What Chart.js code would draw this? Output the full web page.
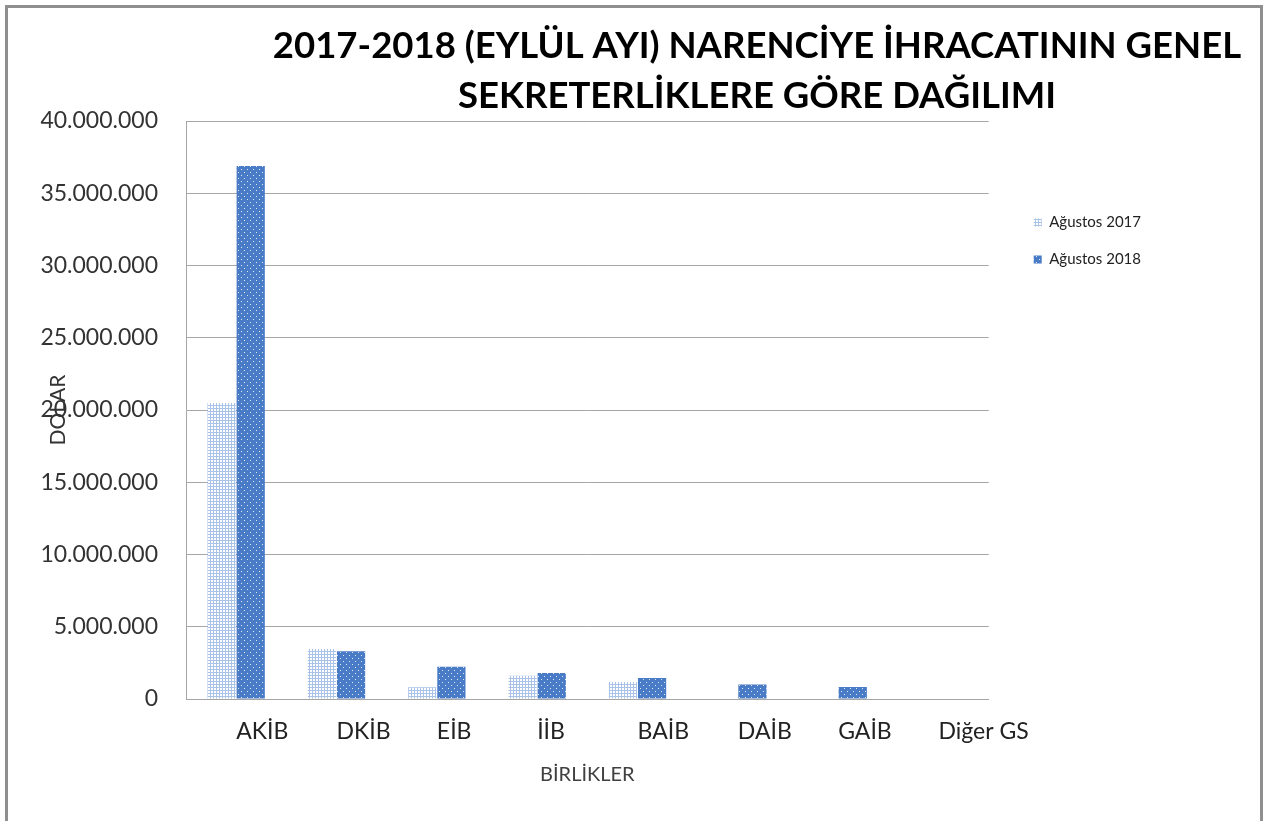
<!DOCTYPE html>
<html><head><meta charset="utf-8">
<script src="https://cdn.jsdelivr.net/npm/chart.js@4.4.1/dist/chart.umd.min.js"></script>
<style>
html,body{margin:0;padding:0;background:#fff;overflow:hidden}
#wrap{position:relative;width:1263px;height:821px}
#frame{position:absolute;left:5px;top:5px;width:1258px;height:900px;border:3px solid #8f8f8f;box-sizing:border-box;pointer-events:none}
</style></head><body>
<div id="wrap"><canvas id="c"></canvas><div id="frame"></div></div>
<script>
const categories = ['AKİB','DKİB','EİB','İİB','BAİB','DAİB','GAİB','Diğer GS'];
const seriesNames = ['Ağustos 2017','Ağustos 2018'];
const values2017 = [20480000, 3460000, 810000, 1610000, 1180000, 0, 0, 0];
const values2018 = [36890000, 3300000, 2240000, 1800000, 1450000, 1010000, 830000, 0];
const titleLines = ['2017-2018 (EYLÜL AYI) NARENCİYE İHRACATININ GENEL', 'SEKRETERLİKLERE GÖRE DAĞILIMI'];
const yAxisTitle = 'DOLAR';
const xAxisTitle = 'BİRLİKLER';
const yMin = 0, yMax = 40000000, yStep = 5000000;

function makePattern(bg, fg, w, h, rects) {
  const c = document.createElement('canvas');
  c.width = w; c.height = h;
  const x = c.getContext('2d');
  x.fillStyle = bg; x.fillRect(0, 0, w, h);
  x.fillStyle = fg;
  rects.forEach(r => x.fillRect(r[0], r[1], r[2], r[3]));
  return x.createPattern(c, 'repeat');
}
const pat2017 = makePattern('#a9c2e8', '#ffffff', 3, 3, [[1,1,2,2]]);
const pat2018 = makePattern('#4a7bc6', '#dfe7f5', 6, 6, [[1,1,1,1],[4,4,1,1]]);

function fmt(v) { return String(v).replace(/\B(?=(\d{3})+(?!\d))/g, '.'); }

const titlePlugin = {
  id: 'customTitle',
  afterDraw(chart) {
    const c = chart.ctx;
    c.save();
    c.font = 'bold 36.5px Lato';
    c.fillStyle = '#000';
    c.textAlign = 'center';
    c.textBaseline = 'middle';
    titleLines.forEach((t, i) => c.fillText(t, 757, 46 + i * 50));
    c.restore();
  }
};

new Chart(document.getElementById('c'), {
  type: 'bar',
  data: {
    labels: categories,
    datasets: [
      { label: seriesNames[0], data: values2017, backgroundColor: pat2017, borderWidth: 0, categoryPercentage: 0.58, barPercentage: 0.97 },
      { label: seriesNames[1], data: values2018, backgroundColor: pat2018, borderWidth: 0, categoryPercentage: 0.58, barPercentage: 0.97 }
    ]
  },
  options: {
    responsive: true, maintainAspectRatio: false, animation: false,
    layout: { padding: { top: 121, left: 10, right: 112, bottom: 34 } },
    plugins: {
      title: { display: false },
      tooltip: { enabled: false },
      legend: {
        position: 'right', align: 'start',
        labels: { boxWidth: 8, boxHeight: 8, padding: 22, font: { family: 'Lato', size: 15 }, color: '#222' },
        title: { display: true, text: ' ', padding: { top: 0, bottom: 57.6 }, font: { size: 12 } }
      }
    },
    scales: {
      x: {
        grid: { display: false, drawTicks: false },
        border: { color: '#a6a6a6' },
        ticks: { align: 'start', padding: 19, font: { family: 'Lato', size: 23 }, color: '#222', maxRotation: 0, autoSkip: false },
        title: { display: true, text: xAxisTitle, font: { family: 'Lato', size: 20 }, color: '#404040', padding: 0 },
        afterFit: s => { s.height = 88; }
      },
      y: {
        min: yMin, max: yMax,
        ticks: { stepSize: yStep, padding: 28, callback: v => fmt(v), font: { family: 'Lato', size: 23 }, color: '#333' },
        grid: { color: '#a6a6a6', drawTicks: false },
        border: { color: '#a6a6a6' },
        title: { display: true, text: yAxisTitle, font: { family: 'Lato', size: 21 }, color: '#333', padding: { top: 36, bottom: 0 } },
        afterFit: s => { s.width = 176; }
      },
      y2: {
        type: 'linear', position: 'right', display: true,
        grid: { display: false, drawTicks: false },
        ticks: { display: false },
        border: { display: false },
        afterFit: s => { s.width = 23; }
      }
    }
  },
  plugins: [titlePlugin]
});
</script>
</body></html>
